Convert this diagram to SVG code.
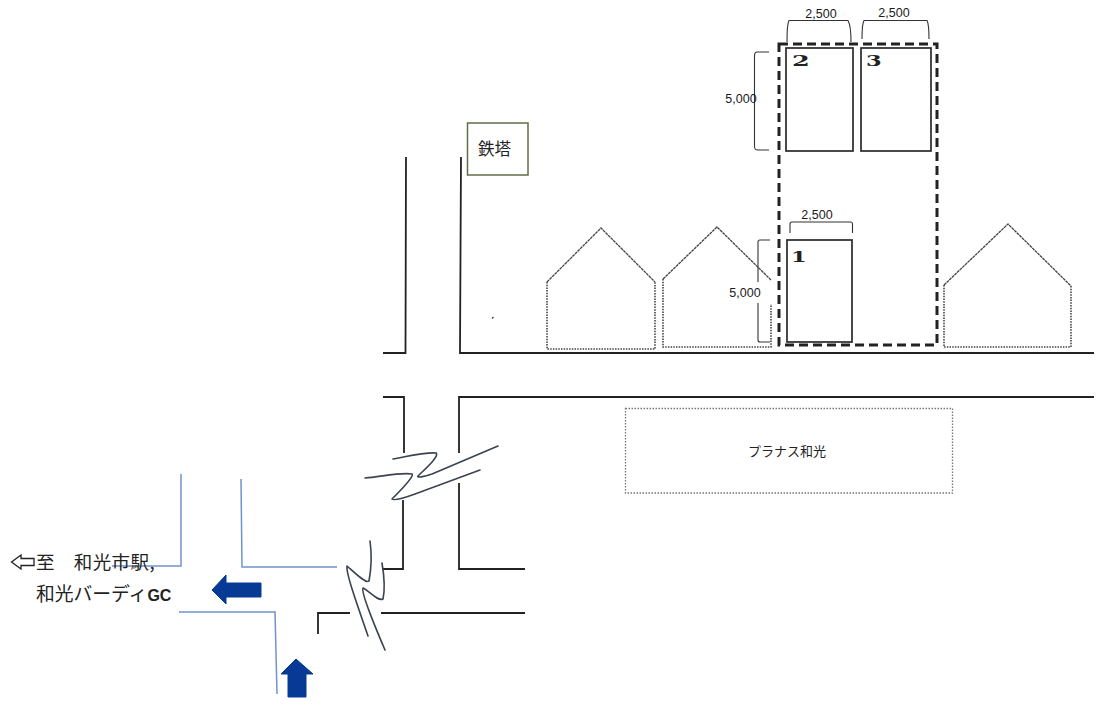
<svg xmlns="http://www.w3.org/2000/svg" width="1105" height="711" viewBox="0 0 1105 711">
<style>
.road{fill:none;stroke:#222;stroke-width:1.8}
.blue{fill:none;stroke:#6f93cc;stroke-width:1.5}
.sq{fill:none;stroke:#3a4350;stroke-width:1.6;stroke-linecap:round;stroke-linejoin:round}
.roof{fill:none;stroke:#444;stroke-width:1.3;stroke-dasharray:3 .6}
.wall{fill:none;stroke:#444;stroke-width:1.6;stroke-dasharray:1.5 1.2}
.plot{fill:#fff;stroke:#2a2a2a;stroke-width:1.7}
.br{fill:none;stroke:#333;stroke-width:1.1}
.dim{font-family:"Liberation Sans",Arial,sans-serif;font-size:12.5px;fill:#1a1a1a;text-anchor:middle}
.num{font-family:"DejaVu Serif",serif;font-weight:bold;font-size:15px;fill:#222}
.jp{font-family:"Noto Sans CJK JP","Noto Sans",sans-serif;fill:#222}
.dir{fill:#063a94;stroke:#063a94;stroke-width:1}
</style>
<rect width="1105" height="711" fill="#fff"/>
<g id="connectors">
<path class="road" d="M383 353H405.500L406 157"/>
<path class="road" d="M461 157L460 353H1094"/>
<path class="road" d="M383 397H404V453"/>
<path class="road" d="M459 453V397H1094"/>
<path class="road" d="M403 500V569H382"/>
<path class="road" d="M459 483V569H525"/>
<path class="road" d="M318 634V613H350"/>
<path class="road" d="M381 613H525"/>
<path class="blue" d="M181 474V566H112"/>
<path class="blue" d="M241 479L242 567H337"/>
<path class="blue" d="M179 612H275L277 694"/>
<path class="sq" d="M393 459C405 457 425 452 436 453C440 456 424 470 418 476C416 478 424 477 432 474L498 446"/>
<path class="sq" d="M365 478C380 477 400 472 412 474C415 476 398 493 392 499C394 501 404 498 415 494L480 470"/>
<path class="sq" d="M370 541C372 555 371 570 369 581C366 584 356 574 347 566C346 572 352 590 368 636"/>
<path class="sq" d="M382 563C384 575 385 590 383 599C378 602 368 590 363 588C361 592 370 615 385 650"/>
<path d="M492 318.500L493.500 317" stroke="#444" stroke-width="1.200" fill="none"/>
</g>
<g id="house-a"><path class="roof" d="M547 282L601 228L655 282"/><path class="wall" d="M547 282V349H655V282"/></g>
<g id="house-b"><path class="roof" d="M663 279L717 227L771 280"/><path class="wall" d="M663 279V347H771V304"/></g>
<g id="house-c"><path class="roof" d="M944 285L1008 224L1071 286"/><path class="wall" d="M944 285V347H1071V286"/></g>
<g id="site"><rect x="779" y="44" width="158" height="301" fill="none" stroke="#222" stroke-width="3" stroke-dasharray="9 5"/></g>
<g id="plot-1"><rect class="plot" x="787" y="240" width="65" height="102"/><text class="num" x="791" y="262" transform="translate(791 0) scale(1.500 1) translate(-791 0)">1</text></g>
<g id="plot-2"><rect class="plot" x="786" y="48" width="67" height="103"/><text class="num" x="792" y="66" transform="translate(792 0) scale(1.700 1) translate(-792 0)">2</text></g>
<g id="plot-3"><rect class="plot" x="861" y="48" width="70" height="103"/><text class="num" x="866" y="66" transform="translate(866 0) scale(1.500 1) translate(-866 0)">3</text></g>
<g id="dim-top-2"><path class="br" d="M787 42C787 30 787 24 789 20.500H848C850 24 851 34 851 42"/><text class="dim" x="821" y="18">2,500</text></g>
<g id="dim-top-3"><path class="br" d="M862 39C862 30 862 24 864 20.500H927C929 24 929 32 929 39"/><text class="dim" x="894" y="17">2,500</text></g>
<g id="dim-side-2"><path class="br" d="M769 52H757C755 52 754.500 54 754.500 56V146C754.500 149 755 150 758 150H769"/><text class="dim" x="741" y="103">5,000</text></g>
<g id="dim-top-1"><path class="br" d="M790 233V224C790 222.500 791 222 792 222H851C852 222 852.500 223 852.500 224V233"/><text class="dim" x="817" y="219">2,500</text></g>
<g id="dim-side-1"><path class="br" d="M770 240H760C758.500 240 758 241 758 242V282M758 303V340C758 341 759 342 760 342H770"/><text class="dim" x="745" y="297">5,000</text></g>
<g id="tower"><rect x="467.500" y="123" width="60.500" height="52" fill="#fff" stroke="#5f6e4a" stroke-width="1.500"/><text class="jp" x="478" y="155" font-size="16.500">鉄塔</text></g>
<g id="prunus"><rect x="625.500" y="408.500" width="327" height="84.500" fill="#fff" stroke="#777" stroke-width="1.300" stroke-dasharray="1.500 1.500"/><text class="jp" x="748" y="456" font-size="13">プラナス和光</text></g>
<g id="arrow-left"><path class="dir" d="M212 590L226 575V583H261V597H226V604Z"/></g>
<g id="arrow-up"><path class="dir" d="M296 659L313 674H306V697H288V674H281Z"/></g>
<g id="destination">
<path d="M11.500 562L21 555V558.500H34V565.500H21V569Z" fill="#fff" stroke="#222" stroke-width="1.300"/>
<text class="jp" x="36" y="569" font-size="18.500" letter-spacing=".4">至　和光市駅,</text>
<text class="jp" x="36" y="601" font-size="18.800">和光バーディ<tspan font-family="Liberation Sans,sans-serif" font-weight="bold" font-size="16">GC</tspan></text>
</g>
</svg>
